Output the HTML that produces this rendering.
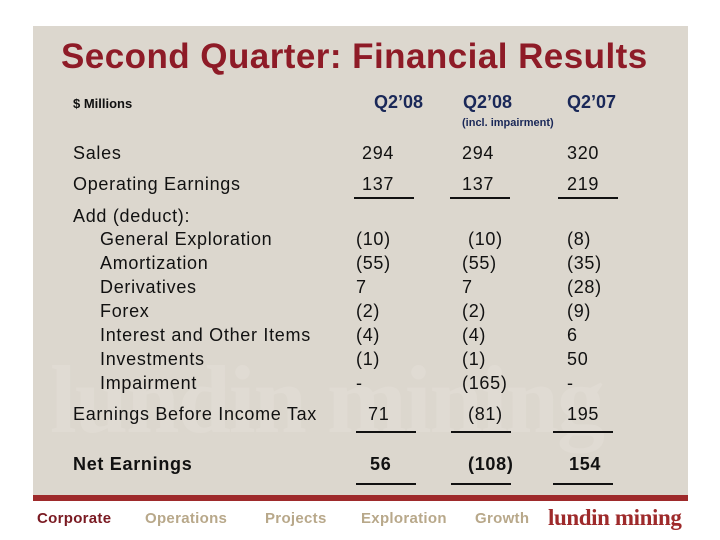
<!DOCTYPE html>
<html><head><meta charset="utf-8"><style>
body{margin:0;width:720px;height:540px;background:#fff;position:relative;overflow:hidden;font-family:"Liberation Sans",Arial,sans-serif}
.panel{position:absolute;left:33px;top:26px;width:655px;height:470px;background:#dcd7ce}
.red{position:absolute;left:33px;top:495px;width:655px;height:6px;background:#9e2a2b}
.t{position:absolute;white-space:nowrap;line-height:1}
.l{position:absolute;height:2px;background:#111}
.wm{position:absolute;left:50px;top:352px;font-family:"Liberation Serif",serif;font-weight:bold;font-size:96px;color:#e0dbd3;letter-spacing:-2px;line-height:1}
.row{font-size:18px;color:#111;letter-spacing:0.7px}
.nav{position:absolute;top:510px;font-size:15px;color:#b8a88a;letter-spacing:0.3px;font-weight:bold}
.hd{font-size:18px;font-weight:bold;color:#1a2858}
</style></head><body>
<div class="panel"></div>
<div class="wm">lundin mining</div>
<div class="t" style="left:61px;top:39px;font-size:35px;font-weight:bold;color:#8e1b27;letter-spacing:0.45px">Second Quarter: Financial Results</div>
<div class="t" style="left:73px;top:97px;font-size:13px;font-weight:bold;color:#111">$ Millions</div>
<div class="t hd" style="left:374px;top:93px">Q2’08</div>
<div class="t hd" style="left:463px;top:93px">Q2’08</div>
<div class="t" style="left:462px;top:118px;font-size:11px;font-weight:bold;color:#1a2858">(incl. impairment)</div>
<div class="t hd" style="left:567px;top:93px">Q2’07</div>
<div id="rows"></div>
<div class="l" style="left:354px;top:197px;width:60px"></div>
<div class="l" style="left:450px;top:197px;width:60px"></div>
<div class="l" style="left:558px;top:197px;width:60px"></div>
<div class="l" style="left:356px;top:431px;width:60px"></div>
<div class="l" style="left:451px;top:431px;width:60px"></div>
<div class="l" style="left:553px;top:431px;width:60px"></div>
<div class="l" style="left:356px;top:483px;width:60px"></div>
<div class="l" style="left:451px;top:483px;width:60px"></div>
<div class="l" style="left:553px;top:483px;width:60px"></div>
<div class="red"></div>
<div class="nav" style="left:37px;color:#7a1a22">Corporate</div>
<div class="nav" style="left:145px">Operations</div>
<div class="nav" style="left:265px">Projects</div>
<div class="nav" style="left:361px">Exploration</div>
<div class="nav" style="left:475px">Growth</div>
<div class="t" style="left:548px;top:506px;font-family:'Liberation Serif',serif;font-weight:bold;font-size:23px;color:#9e2a2b;letter-spacing:-0.4px">lundin mining</div>
<script>
const labels=["Sales","Operating Earnings","Add (deduct):","General Exploration","Amortization","Derivatives","Forex","Interest and Other Items","Investments","Impairment","Earnings Before Income Tax","Net Earnings"];
const ys=[153,184,216,239,263,287,311,335,359,383,414,464];
const c1=["294","137","","(10)","(55)","7","(2)","(4)","(1)","-","71","56"];
const c2=["294","137","","(10)","(55)","7","(2)","(4)","(1)","(165)","(81)","(108)"];
const c3=["320","219","","(8)","(35)","(28)","(9)","6","50","-","195","154"];
const xs=[362,462,567];
const root=document.getElementById('rows');
labels.forEach((lab,i)=>{
  const d=document.createElement('div');
  d.className='t row';
  d.style.left=(i>=3&&i<=9?100:73)+'px';
  d.style.top=(ys[i]-9)+'px';
  if(i===11)d.style.fontWeight='bold';
  d.textContent=lab;
  
  
  root.appendChild(d);
  [c1,c2,c3].forEach((col,j)=>{
    if(!col[i])return;
    const v=document.createElement('div');
    v.className='t row';
    let x=xs[j];
    if(j===0&&i>=3&&i<=9)x=356;
    if(j===1&&i===3)x+=6;
    if(i===10||i===11)x+=(j===0?6:(j===1?6:0));
    if(i===11&&j!==1)x+=2;
    v.style.left=x+'px';
    v.style.top=(ys[i]-9)+'px';
    if(i===11)v.style.fontWeight='bold';
    v.textContent=col[i];
    
    
    root.appendChild(v);
  });
});
</script>
</body></html>
